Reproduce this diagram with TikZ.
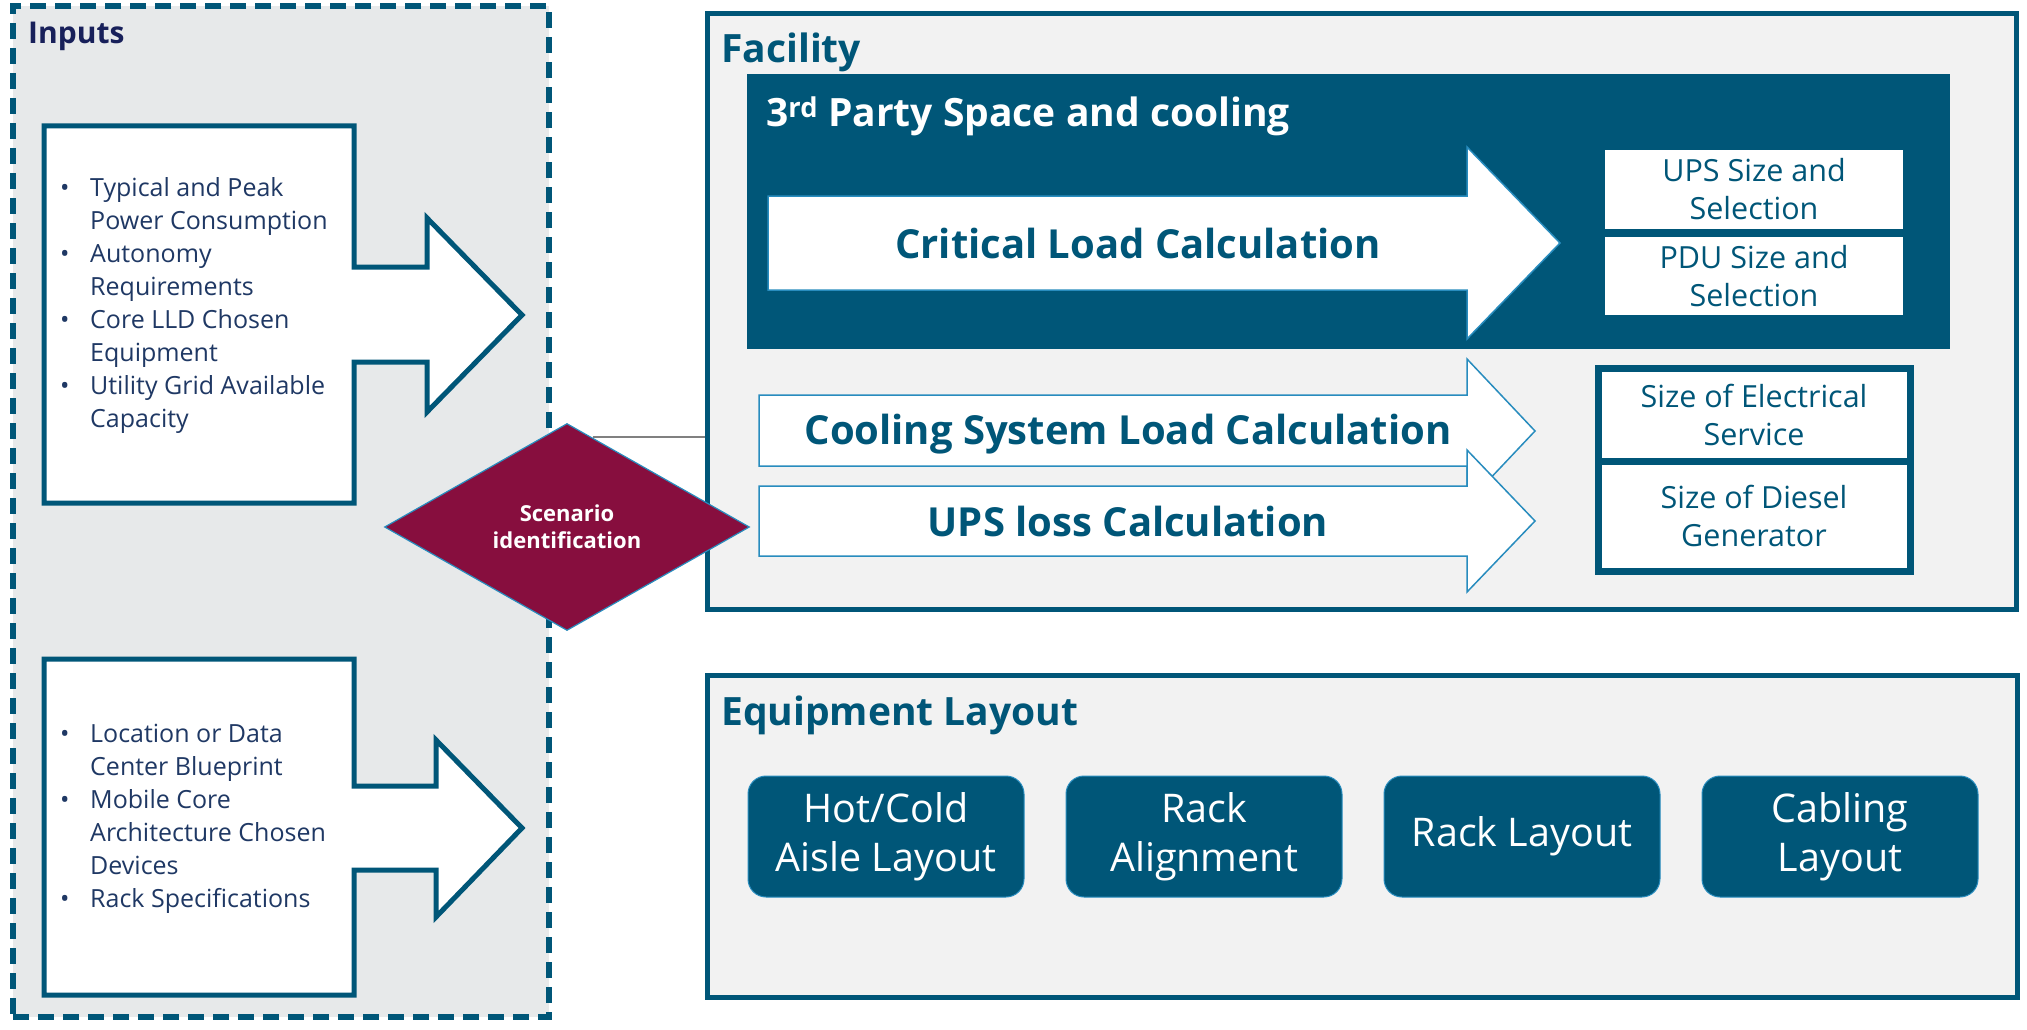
\documentclass[tikz,border=0pt]{standalone}
\usepackage{fontspec}
\setmainfont{Open Sans}
\usetikzlibrary{shapes.geometric, positioning, calc}
\definecolor{tealdark}{RGB}{0,86,120}
\definecolor{navytext}{RGB}{31,56,100}
\definecolor{inputsnavy}{RGB}{24,32,90}
\definecolor{arrowblue}{RGB}{40,140,190}
\definecolor{scenmaroon}{RGB}{135,14,62}
\definecolor{inputgray}{RGB}{231,233,234}
\definecolor{facgray}{RGB}{242,242,242}

\tikzset{
  panel/.style={draw=tealdark, line width=5pt, fill=facgray, inner sep=0pt},
  paneltitle/.style={anchor=base west, inner sep=0pt, text=tealdark, font=\fontsize{39}{46}\selectfont\bfseries},
  inarrow/.style={draw=tealdark, line width=5pt, fill=white},
  initems/.style={anchor=west, inner sep=0pt, text=navytext, font=\fontsize{25}{33}\selectfont},
  calcarrow/.style={draw=arrowblue, line width=1.5pt, fill=white},
  calclabel/.style={text=tealdark, font=\fontsize{40}{46}\selectfont\bfseries},
  sizebox/.style={fill=white, text=tealdark, font=\fontsize{30.5}{38}\selectfont, align=center, inner sep=0pt, minimum width=298pt},
  resultbox/.style={sizebox, draw=tealdark, line width=7pt, minimum width=312pt},
  layoutbox/.style={fill=tealdark, draw=arrowblue, line width=1pt, rounded corners=18pt, text=white, font=\fontsize{39.5}{49}\selectfont, align=center, minimum width=276pt, minimum height=121pt, inner sep=0pt},
  scenario/.style={shape=diamond, fill=scenmaroon, draw=arrowblue, line width=1.2pt, minimum width=365pt, minimum height=207pt, inner sep=0pt, text=white, font=\fontsize{22}{27}\selectfont\bfseries, align=center},
  linkline/.style={draw=gray, line width=2pt}
}

\begin{document}
\begin{tikzpicture}[x=1pt, y=-1pt]
  \useasboundingbox (0,0) rectangle (2027,1030);
  \fill[white] (0,0) rectangle (2027,1030);

  % panels
  \node[draw=tealdark, line width=6pt, dash pattern=on 16pt off 9pt, fill=inputgray, inner sep=0pt, minimum width=536pt, minimum height=1011pt] (inputs) at (281,511.5) {};
  \node[panel, minimum width=1309pt, minimum height=595pt] (facility) at (1361.5,311.5) {};
  \node[panel, minimum width=1310pt, minimum height=322pt] (layout) at (1362,836) {};
  \node[fill=tealdark, inner sep=0pt, minimum width=1203pt, minimum height=275pt] (thirdparty) at (1348.5,211.5) {};

  \node[anchor=base west, inner sep=0pt, text=inputsnavy, font=\fontsize{30}{36}\selectfont\bfseries] (inputstitle) at (28,44) {Inputs};
  \node[paneltitle] (facilitytitle) at (721,63) {Facility};
  \node[paneltitle, text=white] (thirdtitle) at (766,127) {3\textsuperscript{rd} Party Space and cooling};
  \node[paneltitle] (layouttitle) at (721,725) {Equipment Layout};

  % input arrows
  \draw[inarrow] (44,126) -- (354,126) -- (354,267) -- (427,267) -- (427,218) -- (522,315) -- (427,412) -- (427,362) -- (354,362) -- (354,503) -- (44,503) -- cycle;
  \draw[inarrow] (44,659) -- (354,659) -- (354,786) -- (436,786) -- (436,740) -- (522,828) -- (436,917) -- (436,870) -- (354,870) -- (354,995) -- (44,995) -- cycle;

  \node[initems] (powerinputs) at (60,305) {\begin{tabular}{@{}p{30pt}@{}l@{}}
    \textbullet & Typical and Peak\\
                & Power Consumption\\
    \textbullet & Autonomy\\
                & Requirements\\
    \textbullet & Core LLD Chosen\\
                & Equipment\\
    \textbullet & Utility Grid Available\\
                & Capacity
  \end{tabular}};
  \node[initems] (siteinputs) at (60,818) {\begin{tabular}{@{}p{30pt}@{}l@{}}
    \textbullet & Location or Data\\
                & Center Blueprint\\
    \textbullet & Mobile Core\\
                & Architecture Chosen\\
                & Devices\\
    \textbullet & Rack Specifications
  \end{tabular}};

  % calculation arrows
  \draw[calcarrow] (768,196) -- (1467,196) -- (1467,147) -- (1560,243) -- (1467,339) -- (1467,290) -- (768,290) -- cycle;
  \draw[calcarrow] (759,395) -- (1467,395) -- (1467,359) -- (1535,431) -- (1467,503) -- (1467,466) -- (759,466) -- cycle;
  \draw[calcarrow] (759,486) -- (1467,486) -- (1467,450) -- (1535,521) -- (1467,592) -- (1467,556) -- (759,556) -- cycle;
  \node[calclabel] (critical) at (1138,243) {Critical Load Calculation};
  \node[calclabel] (cooling) at (1128,434) {Cooling System Load Calculation};
  \node[calclabel] (upsloss) at (1128,521) {UPS loss Calculation};

  % sizing results
  \node[sizebox, minimum height=79pt] (upssize) at (1754,189.5) {UPS Size and\\Selection};
  \node[sizebox, minimum height=78pt] (pdusize) at (1754,276) {PDU Size and\\Selection};
  \node[resultbox, minimum height=93pt] (elecservice) at (1754,414.5) {Size of Electrical\\Service};
  \node[resultbox, minimum height=110pt] (dieselgen) at (1754,516) {Size of Diesel\\Generator};

  % layout steps
  \node[layoutbox] (hotcold) at (886,836.5) {Hot/Cold\\Aisle Layout};
  \node[layoutbox, right=41pt of hotcold] (rackalign) {Rack\\Alignment};
  \node[layoutbox, right=41pt of rackalign] (racklayout) {Rack Layout};
  \node[layoutbox, right=41pt of racklayout] (cabling) {Cabling\\Layout};

  % scenario
  \node[scenario] (scen) at (567,527) {Scenario\\identification};
  \draw[linkline] ($(scen.north)!0.14!(scen.east)$) coordinate (linkstart) -- (linkstart -| facility.west);
\end{tikzpicture}
\end{document}
